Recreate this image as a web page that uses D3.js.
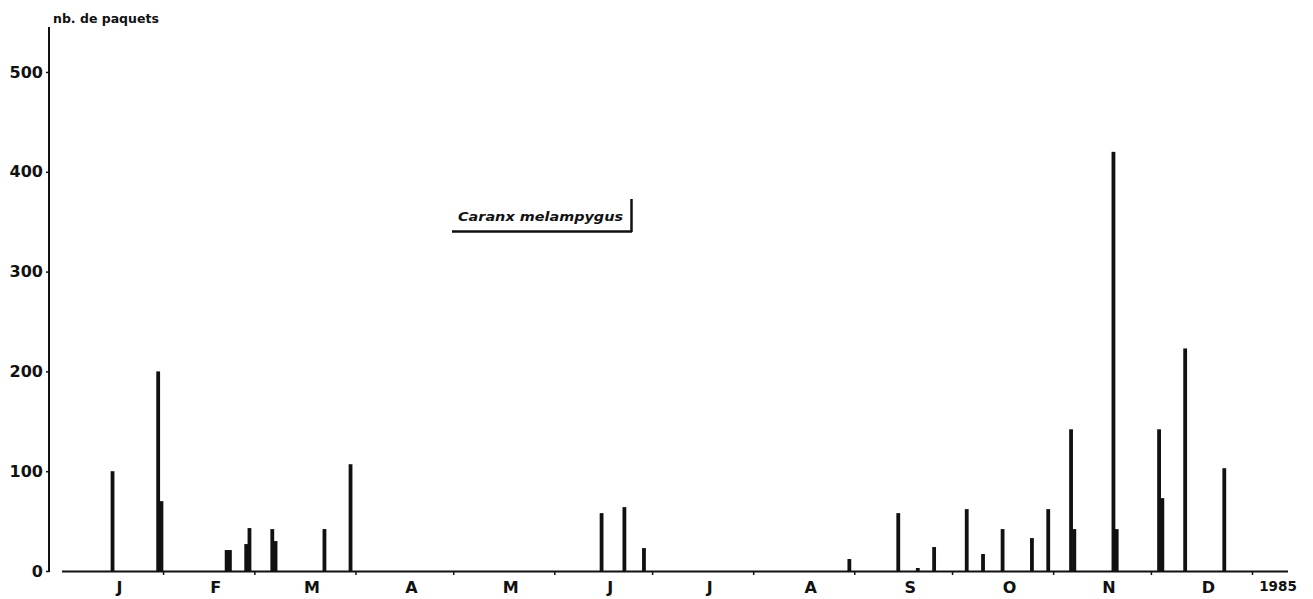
<!DOCTYPE html>
<html>
<head>
<meta charset="utf-8">
<script src="https://cdn.jsdelivr.net/npm/d3@7"></script>
<style>
  body { margin: 0; background: #fff; }
  svg { display: block; }
  text { fill: #111; font-family: "DejaVu Sans", sans-serif; font-weight: bold; }
</style>
</head>
<body>
<svg id="chart" width="1313" height="599"></svg>
<script>
// landing days (1985) and number of packets of Caranx melampygus
const dates = [
	"1985-01-16", "1985-01-30", "1985-01-31",
	"1985-02-20", "1985-02-21", "1985-02-26", "1985-02-27",
	"1985-03-06", "1985-03-07", "1985-03-22", "1985-03-30",
	"1985-06-15", "1985-06-22", "1985-06-28",
	"1985-08-30", "1985-09-14", "1985-09-20", "1985-09-25",
	"1985-10-05", "1985-10-10", "1985-10-16", "1985-10-25", "1985-10-30",
	"1985-11-06", "1985-11-07", "1985-11-19", "1985-11-20",
	"1985-12-03", "1985-12-04", "1985-12-11", "1985-12-23"
];
const packets = [
	100, 200, 70,
	21, 21, 27, 43,
	42, 30, 42, 107,
	58, 64, 23,
	12, 58, 3, 24,
	62, 17, 42, 33, 62,
	142, 42, 420, 42,
	142, 73, 223, 103
];
const monthLabels = ["J", "F", "M", "A", "M", "J", "J", "A", "S", "O", "N", "D"];
const yTicks = [0, 100, 200, 300, 400, 500];
const yearLabel = "1985";
const speciesName = "Caranx melampygus";
const yTitle = "nb. de paquets";

const parse = d3.timeParse("%Y-%m-%d");
const data = dates.map(function(d, i) {
	return { date: parse(d), qty: packets[i] };
});

const svg = d3.select("#chart");

const x = d3.scaleTime()
	.domain([new Date(1985, 0, 1), new Date(1986, 0, 1)])
	.range([62, 1252]);
const y = d3.scaleLinear().domain([0, 500]).range([571, 72]);

// y axis
svg.append("line")
	.attr("x1", 49).attr("x2", 49)
	.attr("y1", 27).attr("y2", 572)
	.attr("stroke", "#111").attr("stroke-width", 2);

let yAxis = svg.append("g")
	.attr("transform", "translate(49,0)")
	.call(d3.axisLeft(y).tickValues(yTicks).tickSize(3).tickFormat(d3.format("d")));
yAxis.select(".domain").remove();
yAxis.selectAll("line").attr("stroke", "#111").attr("stroke-width", 1.5);
yAxis.selectAll("text")
	.attr("x", -6)
	.style("font-size", "16px")
	.style("font-family", "DejaVu Sans, sans-serif")
	.style("font-weight", "bold")
	.attr("fill", "#111");

svg.append("text")
	.attr("x", 53).attr("y", 23)
	.style("font-size", "12.5px")
	.text(yTitle);

// x axis
const xEnd = 1288;
svg.append("line")
	.attr("x1", 62).attr("x2", xEnd)
	.attr("y1", 571.5).attr("y2", 571.5)
	.attr("stroke", "#111").attr("stroke-width", 2);

let monthStarts = d3.timeMonth.range(new Date(1985, 1, 1), new Date(1986, 0, 2));
let xAxis = svg.append("g")
	.attr("transform", "translate(0,571)")
	.call(d3.axisBottom(x).tickValues(monthStarts).tickSize(4).tickFormat(""));
xAxis.select(".domain").remove();
xAxis.selectAll("line").attr("stroke", "#111").attr("stroke-width", 1.5);

let monthMids = d3.timeMonth.range(new Date(1985, 0, 1), new Date(1986, 0, 1))
	.map(function(m, i) {
		let next = d3.timeMonth.offset(m, 1);
		return { label: monthLabels[i], date: new Date((+m + +next) / 2) };
	});

svg.selectAll(".month")
	.data(monthMids)
	.enter()
	.append("text")
	.attr("class", "month")
	.attr("x", function(d) { return x(d.date) + 7; })
	.attr("y", 593)
	.attr("text-anchor", "middle")
	.style("font-size", "16px")
	.text(function(d) { return d.label; });

svg.append("text")
	.attr("x", 1278).attr("y", 591)
	.attr("text-anchor", "middle")
	.style("font-size", "13.5px")
	.text(yearLabel);

// bars
svg.selectAll(".bar")
	.data(data)
	.enter()
	.append("rect")
	.attr("class", "bar")
	.attr("x", function(d) { return x(d3.timeHour.offset(d.date, 12)) - 1.9; })
	.attr("width", 3.8)
	.attr("y", function(d) { return y(d.qty); })
	.attr("height", function(d) { return y(0) - y(d.qty); })
	.attr("fill", "#111");

// species label box
let box = svg.append("g");
box.append("text")
	.attr("x", 458).attr("y", 221)
	.attr("textLength", 165)
	.attr("lengthAdjust", "spacingAndGlyphs")
	.style("font-size", "13px")
	.style("font-style", "italic")
	.text(speciesName);
box.append("path")
	.attr("d", "M452,231.5 L632,231.5 M631.5,199 L631.5,232")
	.attr("fill", "none")
	.attr("stroke", "#111")
	.attr("stroke-width", 2.5);
</script>
</body>
</html>
